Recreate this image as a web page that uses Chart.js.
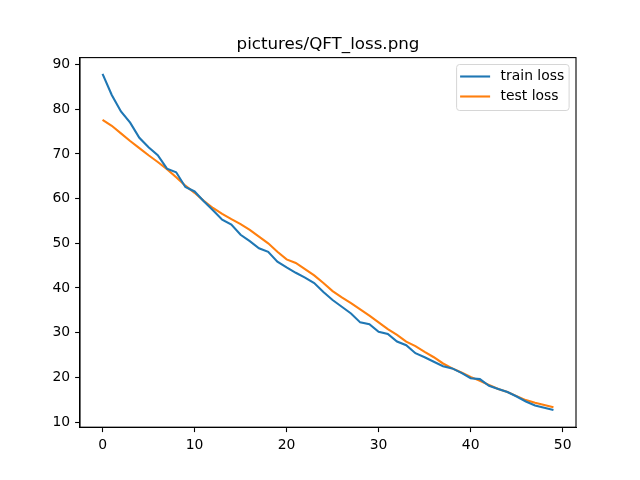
<!DOCTYPE html>
<html>
<head>
<meta charset="utf-8">
<script src="https://cdn.jsdelivr.net/npm/chart.js@4.4.1/dist/chart.umd.min.js"></script>
<style>
  html, body { margin: 0; padding: 0; background: #fff; }
  canvas { display: block; }
</style>
</head>
<body>
<canvas id="chart" width="640" height="480"></canvas>
<script>
const epochs = [0, 1, 2, 3, 4, 5, 6, 7, 8, 9, 10, 11, 12, 13, 14, 15, 16, 17, 18, 19,
  20, 21, 22, 23, 24, 25, 26, 27, 28, 29, 30, 31, 32, 33, 34, 35, 36, 37, 38, 39,
  40, 41, 42, 43, 44, 45, 46, 47, 48, 49];

const trainLoss = [87.9, 83.2, 79.5, 77.0, 73.6, 71.5, 69.7, 66.7, 65.9, 62.6,
  61.6, 59.4, 57.4, 55.3, 54.2, 51.9, 50.5, 48.9, 48.1, 45.9,
  44.6, 43.4, 42.3, 41.1, 39.1, 37.3, 35.8, 34.3, 32.3, 31.9,
  30.2, 29.7, 28.0, 27.2, 25.4, 24.5, 23.5, 22.5, 22.0, 21.0,
  19.8, 19.6, 18.1, 17.4, 16.7, 15.7, 14.6, 13.7, 13.2, 12.7];

const testLoss = [77.6, 76.3, 74.6, 72.9, 71.3, 69.7, 68.2, 66.6, 64.8, 62.9,
  61.3, 59.5, 57.9, 56.6, 55.4, 54.3, 53.0, 51.5, 50.0, 48.1,
  46.4, 45.6, 44.2, 42.8, 41.1, 39.3, 37.9, 36.6, 35.2, 33.8,
  32.3, 30.8, 29.5, 28.0, 27.0, 25.7, 24.5, 23.1, 22.0, 21.1,
  20.1, 19.2, 18.3, 17.4, 16.7, 15.8, 14.9, 14.3, 13.8, 13.3];

const xTicks = [0, 10, 20, 30, 40, 50];
const yTicks = [10, 20, 30, 40, 50, 60, 70, 80, 90];
const seriesNames = ["train loss", "test loss"];
const titleText = "pictures/QFT_loss.png";

const BLUE = "#1f77b4";
const ORANGE = "#ff7f0e";
const FONT = "'DejaVu Sans', sans-serif";

// matplotlib-like frame, title and legend
const mplDecor = {
  id: "mplDecor",
  afterDatasetsDraw(chart) {
    const { ctx, chartArea: a } = chart;
    ctx.save();
    ctx.strokeStyle = "#000";
    ctx.lineWidth = 1.1;
    ctx.strokeRect(a.left, a.top, a.right - a.left, a.bottom - a.top);

    ctx.fillStyle = "#000";
    ctx.font = "16.7px " + FONT;
    ctx.textAlign = "center";
    ctx.textBaseline = "alphabetic";
    ctx.fillText(titleText, (a.left + a.right) / 2, a.top - 8.3);

    // legend box
    const bw = 112.5, bh = 46;
    const bx = a.right - 6.9 - bw, by = a.top + 6.9;
    ctx.beginPath();
    ctx.roundRect(bx, by, bw, bh, 3);
    ctx.fillStyle = "rgba(255,255,255,0.8)";
    ctx.fill();
    ctx.strokeStyle = "#d6d6d6";
    ctx.lineWidth = 1;
    ctx.stroke();

    const colors = [BLUE, ORANGE];
    ctx.font = "13.9px " + FONT;
    ctx.textAlign = "left";
    ctx.textBaseline = "middle";
    seriesNames.forEach((name, i) => {
      const y = by + 12 + i * 20;
      ctx.beginPath();
      ctx.moveTo(bx + 3.5, y);
      ctx.lineTo(bx + 33.5, y);
      ctx.strokeStyle = colors[i];
      ctx.lineWidth = 2.1;
      ctx.stroke();
      ctx.fillStyle = "#000";
      ctx.fillText(name, bx + 44, y);
    });
    ctx.restore();
  }
};

const tickStyle = {
  color: "#000",
  font: { family: FONT, size: 13.9 },
  padding: 4.9
};
const gridStyle = {
  drawOnChartArea: false,
  drawTicks: true,
  tickLength: 4.9,
  tickWidth: 1.1,
  tickColor: "#000"
};

new Chart(document.getElementById("chart"), {
  type: "line",
  data: {
    datasets: [
      {
        label: seriesNames[0],
        data: epochs.map((e, i) => ({ x: e, y: trainLoss[i] })),
        borderColor: BLUE,
        borderWidth: 2.1,
        pointRadius: 0,
        tension: 0,
        fill: false
      },
      {
        label: seriesNames[1],
        data: epochs.map((e, i) => ({ x: e, y: testLoss[i] })),
        borderColor: ORANGE,
        borderWidth: 2.1,
        pointRadius: 0,
        tension: 0,
        fill: false
      }
    ]
  },
  options: {
    responsive: false,
    animation: false,
    devicePixelRatio: 1,
    layout: { padding: { left: 0, right: 64, top: 57.6, bottom: 0 } },
    plugins: {
      legend: { display: false },
      title: { display: false },
      tooltip: { enabled: false }
    },
    scales: {
      x: {
        type: "linear",
        min: -2.45,
        max: 51.45,
        grid: gridStyle,
        border: { display: true, color: "#000", width: 1.1 },
        ticks: { ...tickStyle, maxRotation: 0 },
        afterBuildTicks: (s) => { s.ticks = xTicks.map((v) => ({ value: v })); },
        afterFit: (s) => { s.height = 52.8; }
      },
      y: {
        type: "linear",
        min: 8.84,
        max: 91.56,
        grid: gridStyle,
        border: { display: true, color: "#000", width: 1.1 },
        ticks: tickStyle,
        afterBuildTicks: (s) => { s.ticks = yTicks.map((v) => ({ value: v })); },
        afterFit: (s) => { s.width = 80; }
      }
    }
  },
  plugins: [mplDecor]
});
</script>
</body>
</html>
